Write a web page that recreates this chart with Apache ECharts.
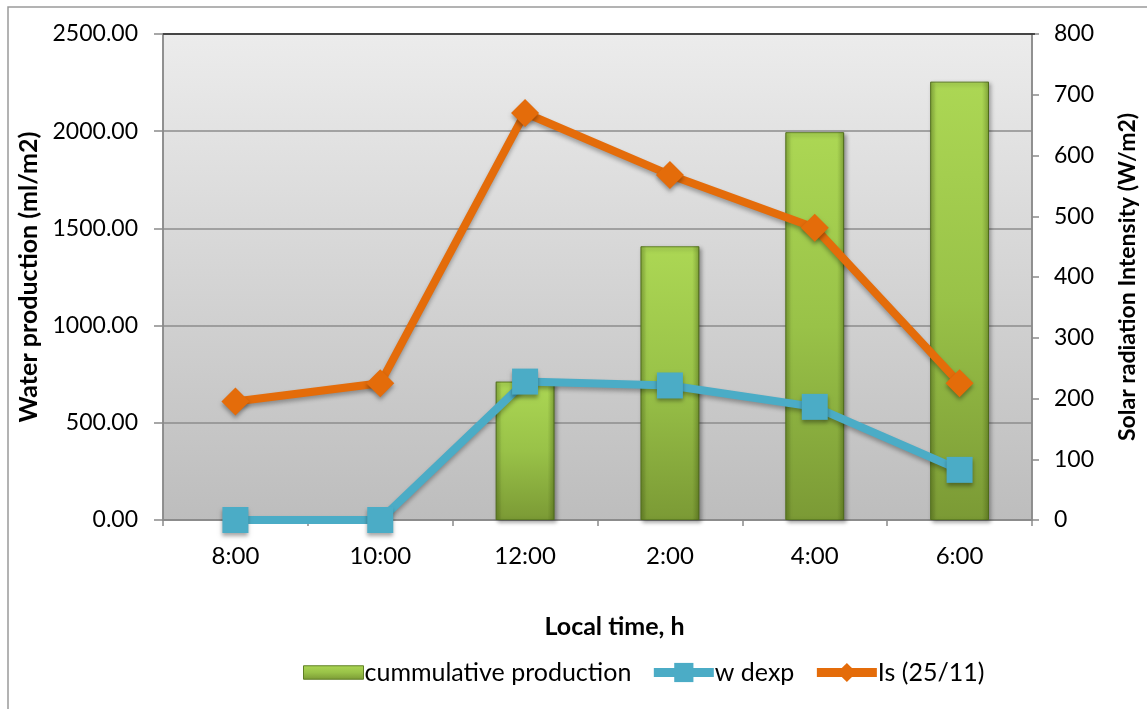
<!DOCTYPE html>
<html>
<head>
<meta charset="utf-8">
<script src="https://cdn.jsdelivr.net/npm/echarts@6/dist/echarts.min.js"></script>
<style>
  html, body { margin: 0; padding: 0; background: #ffffff; }
  #chart { width: 1147px; height: 709px; }
</style>
</head>
<body>
<div id="chart"></div>
<script>
// Local time of each measurement
const categories = ['8:00', '10:00', '12:00', '2:00', '4:00', '6:00'];
// Cumulative water production (ml/m2), left axis
const cumulativeProduction = [0, 0, 712, 1408, 1995, 2255];
// Experimental water production per interval (ml/m2), left axis
const wDexp = [0, 0, 712, 692, 582, 258];
// Solar radiation intensity on 25/11 (W/m2), right axis
const solarIs = [195, 225, 670, 568, 481, 225];

const FONT = 'Lato, "Open Sans", sans-serif';
const chart = echarts.init(document.getElementById('chart'));

// empty columns draw no bar at all
const barValues = cumulativeProduction.map(v => (v === 0 ? '-' : v));

const barFill = new echarts.graphic.LinearGradient(0, 0, 0, 1, [
  { offset: 0, color: '#acd754' },
  { offset: 0.5, color: '#99c248' },
  { offset: 1, color: '#7b9a35' }
]);
// darker rims at the sides of each column for a bevelled look
const bevelFill = new echarts.graphic.LinearGradient(0, 0, 1, 0, [
  { offset: 0, color: 'rgba(40,60,0,0.28)' },
  { offset: 0.1, color: 'rgba(40,60,0,0)' },
  { offset: 0.88, color: 'rgba(40,60,0,0)' },
  { offset: 1, color: 'rgba(40,60,0,0.32)' }
]);

chart.setOption({
  animation: false,
  backgroundColor: '#ffffff',
  graphic: [
    { type: 'rect', shape: { x: 8, y: 7, width: 1300, height: 900 },
      style: { fill: 'none', stroke: '#9a9a9a', lineWidth: 1.5 }, z: -1 },
    { type: 'line', shape: { x1: 163, y1: 34, x2: 1035, y2: 34 },
      style: { stroke: '#2b2b2b', lineWidth: 1.5 }, z: 10 }
  ],
  grid: {
    left: 163, right: 112, top: 34, bottom: 189,
    show: true,
    borderColor: '#8a8a8a', borderWidth: 1.5,
    backgroundColor: new echarts.graphic.LinearGradient(0, 0, 0, 1, [
      { offset: 0, color: '#ececec' },
      { offset: 1, color: '#bdbdbd' }
    ])
  },
  legend: {
    left: 298, top: 655,
    itemWidth: 60, itemHeight: 24, itemGap: 18,
    textStyle: { fontFamily: FONT, fontSize: 25, color: '#000', padding: [0, 0, 0, -4] },
    data: [
      { name: 'cummulative production',
        icon: 'path://M0,0 L58,0 L58,13 L0,13 Z',
        itemStyle: { color: barFill, borderColor: '#5f7f25', borderWidth: 1 } },
      { name: 'w dexp', lineStyle: { width: 9 } },
      { name: 'Is (25/11)', lineStyle: { width: 9 } }
    ]
  },
  xAxis: {
    type: 'category',
    data: categories,
    boundaryGap: true,
    name: 'Local time, h',
    nameLocation: 'middle',
    nameGap: 94,
    nameTextStyle: { fontFamily: FONT, fontSize: 25, fontWeight: 'bold', color: '#000',
      padding: [0, 0, 0, 34] },
    axisLine: { lineStyle: { color: '#8a8a8a', width: 1.5 } },
    axisTick: { show: true, length: 6, lineStyle: { color: '#8a8a8a', width: 1.5 } },
    axisLabel: { fontFamily: FONT, fontSize: 24, color: '#000', margin: 24 }
  },
  yAxis: [
    {
      type: 'value', min: 0, max: 2500, interval: 500, position: 'left',
      name: 'Water production (ml/m2)',
      nameLocation: 'middle', nameGap: 118, nameRotate: 90,
      nameTextStyle: { fontFamily: FONT, fontSize: 25, fontWeight: 'bold', color: '#000' },
      axisLine: { show: true, lineStyle: { color: '#8a8a8a', width: 1.5 } },
      axisTick: { show: true, length: 9, lineStyle: { color: '#8a8a8a', width: 1.5 } },
      axisLabel: { fontFamily: FONT, fontSize: 23, color: '#000', margin: 25,
        formatter: v => v.toFixed(2) },
      splitLine: { show: true, lineStyle: { color: '#8c8c8c', width: 1.5 } }
    },
    {
      type: 'value', min: 0, max: 800, interval: 100, position: 'right',
      name: 'Solar radiation Intensity (W/m2)',
      nameLocation: 'middle', nameGap: 84, nameRotate: 90,
      nameTextStyle: { fontFamily: FONT, fontSize: 23, fontWeight: 'bold', color: '#000' },
      axisLine: { show: true, lineStyle: { color: '#8a8a8a', width: 1.5 } },
      axisTick: { show: true, length: 7, lineStyle: { color: '#8a8a8a', width: 1.5 } },
      axisLabel: { fontFamily: FONT, fontSize: 23, color: '#000', margin: 22 },
      splitLine: { show: false }
    }
  ],
  series: [
    {
      name: 'cummulative production',
      type: 'bar',
      yAxisIndex: 0,
      data: barValues,
      barWidth: '40.6%',
      barGap: '-100%',
      itemStyle: {
        color: barFill,
        borderColor: '#5f7f25',
        borderWidth: 1,
        shadowColor: 'rgba(0,0,0,0.35)', shadowBlur: 4, shadowOffsetX: 2, shadowOffsetY: 2
      },
      z: 2
    },
    {
      name: 'bevel',
      type: 'bar',
      yAxisIndex: 0,
      data: barValues,
      barWidth: '40.6%',
      barGap: '-100%',
      silent: true,
      itemStyle: { color: bevelFill, borderWidth: 0 },
      z: 2
    },
    {
      name: 'w dexp',
      type: 'line',
      yAxisIndex: 0,
      data: wDexp,
      symbol: 'rect',
      symbolSize: 26,
      lineStyle: { color: '#4bacc6', width: 8,
        shadowColor: 'rgba(0,0,0,0.3)', shadowBlur: 4, shadowOffsetY: 3 },
      itemStyle: { color: '#4bacc6',
        shadowColor: 'rgba(0,0,0,0.35)', shadowBlur: 4, shadowOffsetY: 3 },
      z: 3
    },
    {
      name: 'Is (25/11)',
      type: 'line',
      yAxisIndex: 1,
      data: solarIs,
      symbol: 'diamond',
      symbolSize: 28,
      lineStyle: { color: '#e46c0a', width: 8,
        shadowColor: 'rgba(0,0,0,0.3)', shadowBlur: 4, shadowOffsetY: 3 },
      itemStyle: { color: '#e46c0a',
        shadowColor: 'rgba(0,0,0,0.35)', shadowBlur: 4, shadowOffsetY: 3 },
      z: 4
    }
  ]
});
</script>
</body>
</html>
